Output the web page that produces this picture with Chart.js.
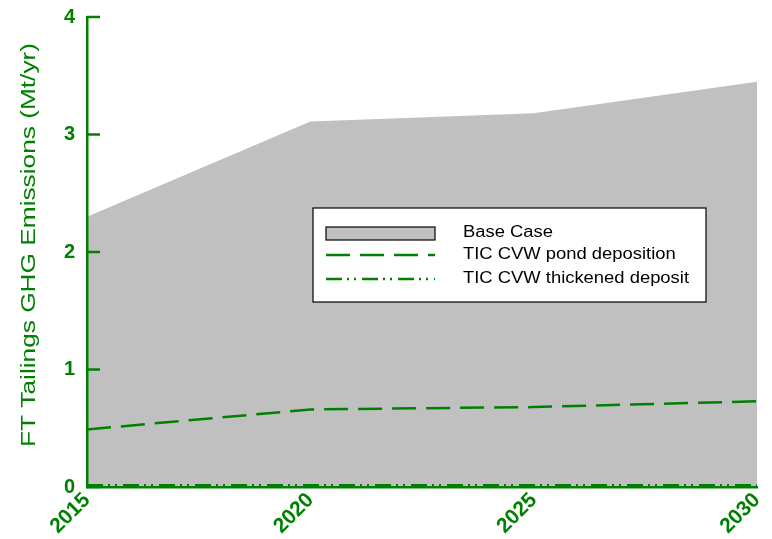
<!DOCTYPE html>
<html>
<head>
<meta charset="utf-8">
<script src="https://cdn.jsdelivr.net/npm/chart.js@4/dist/chart.umd.min.js"></script>
<style>
  html, body { margin: 0; padding: 0; background: #ffffff; }
  #wrap { width: 772px; height: 539px; position: relative; }
</style>
</head>
<body>
<div id="wrap"><canvas id="c" width="772" height="539"></canvas></div>
<script>
// Years on the horizontal axis
const years = [2015, 2020, 2025, 2030];
const yTicks = [0, 1, 2, 3, 4];

// Fine tailings GHG emissions, Mt/yr
const baseCase = [2.30, 3.11, 3.18, 3.45];
const pondDeposition = [0.49, 0.66, 0.68, 0.73];
const thickenedDeposit = [0.015, 0.015, 0.015, 0.015];

const seriesNames = ['Base Case', 'TIC CVW pond deposition', 'TIC CVW thickened deposit'];
const yTitle = 'FT Tailings GHG Emissions (Mt/yr)';

const GREEN = '#008000';
const GREY = '#c0c0c0';
const FONT = 'Arial, "Liberation Sans", sans-serif';

const pts = (vals) => years.map((x, i) => ({ x, y: vals[i] }));

const pondDash = [24, 10];
const thickDash = [16, 5, 2, 5, 2, 6];

// inward tick marks on the value axis
const inwardTicks = {
  id: 'inwardTicks',
  afterDraw(chart) {
    const ctx = chart.ctx;
    const y = chart.scales.y;
    const left = chart.chartArea.left;
    ctx.save();
    ctx.strokeStyle = GREEN;
    ctx.lineWidth = 2.5;
    yTicks.forEach(v => {
      const py = y.getPixelForValue(v);
      ctx.beginPath();
      ctx.moveTo(left, py);
      ctx.lineTo(left + 13, py);
      ctx.stroke();
    });
    ctx.restore();
  }
};

// wide-set vertical axis title
const axisTitle = {
  id: 'axisTitle',
  afterDraw(chart) {
    const ctx = chart.ctx;
    const a = chart.chartArea;
    ctx.save();
    ctx.translate(35, (a.top + a.bottom) / 2 - 7);
    ctx.rotate(-Math.PI / 2);
    ctx.scale(1.25, 1);
    ctx.font = '21px ' + FONT;
    ctx.fillStyle = GREEN;
    ctx.textAlign = 'center';
    ctx.textBaseline = 'alphabetic';
    ctx.fillText(yTitle, 0, 0);
    ctx.restore();
  }
};

// boxed legend inside the plot
const boxLegend = {
  id: 'boxLegend',
  afterDraw(chart) {
    const ctx = chart.ctx;
    const a = chart.chartArea;
    const bx = a.left + 226, by = a.top + 191, bw = 393, bh = 94;
    ctx.save();
    ctx.fillStyle = '#ffffff';
    ctx.fillRect(bx, by, bw, bh);
    ctx.strokeStyle = '#000000';
    ctx.lineWidth = 1.2;
    ctx.strokeRect(bx, by, bw, bh);

    const sx = bx + 13, sw = 109, tx = bx + 150;
    const rows = [by + 25, by + 47, by + 71];
    ctx.fillStyle = '#000000';
    ctx.textBaseline = 'middle';
    seriesNames.forEach((n, i) => {
      ctx.save();
      ctx.translate(tx, rows[i]);
      ctx.scale(1.15, 1);
      ctx.font = '16px ' + FONT;
      ctx.fillText(n, 0, 0);
      ctx.restore();
    });

    // Base Case swatch
    ctx.fillStyle = GREY;
    ctx.fillRect(sx, rows[0] - 6, sw, 13);
    ctx.strokeStyle = '#000000';
    ctx.lineWidth = 1.2;
    ctx.strokeRect(sx, rows[0] - 6, sw, 13);

    ctx.strokeStyle = GREEN;
    ctx.lineWidth = 2.5;
    ctx.setLineDash(pondDash);
    ctx.beginPath();
    ctx.moveTo(sx, rows[1]); ctx.lineTo(sx + sw, rows[1]);
    ctx.stroke();

    ctx.setLineDash(thickDash);
    ctx.beginPath();
    ctx.moveTo(sx, rows[2]); ctx.lineTo(sx + sw, rows[2]);
    ctx.stroke();
    ctx.restore();
  }
};

new Chart(document.getElementById('c'), {
  type: 'line',
  data: {
    datasets: [
      {
        label: seriesNames[0],
        data: pts(baseCase),
        fill: 'origin',
        backgroundColor: GREY,
        borderWidth: 0,
        borderColor: 'rgba(0,0,0,0)',
        pointRadius: 0,
        tension: 0,
        order: 3
      },
      {
        label: seriesNames[1],
        data: pts(pondDeposition),
        fill: false,
        borderColor: GREEN,
        borderWidth: 2.5,
        borderDash: pondDash,
        pointRadius: 0,
        tension: 0,
        order: 1
      },
      {
        label: seriesNames[2],
        data: pts(thickenedDeposit),
        fill: false,
        borderColor: GREEN,
        borderWidth: 2.5,
        borderDash: thickDash,
        pointRadius: 0,
        tension: 0,
        order: 0
      }
    ]
  },
  options: {
    responsive: false,
    animation: false,
    devicePixelRatio: 1,
    layout: { padding: { top: 17, right: 15, left: 0, bottom: 0 } },
    plugins: { legend: { display: false }, tooltip: { enabled: false } },
    scales: {
      x: {
        type: 'linear',
        min: years[0],
        max: years[years.length - 1],
        afterBuildTicks: (s) => { s.ticks = years.map(v => ({ value: v })); },
        afterFit: (s) => { s.height = 52; s.paddingLeft = 0; s.paddingRight = 0; },
        grid: { display: false, drawTicks: false },
        border: { display: true, color: GREEN, width: 2.5, z: 1 },
        ticks: {
          color: GREEN,
          font: { family: FONT, size: 21, weight: 'bold' },
          maxRotation: 45,
          minRotation: 45,
          padding: 1,
          z: 1,
          callback: (v) => String(v)
        }
      },
      y: {
        min: 0,
        max: 4,
        afterBuildTicks: (s) => { s.ticks = yTicks.map(v => ({ value: v })); },
        afterFit: (s) => { s.width = 87; s.paddingTop = 0; s.paddingBottom = 0; },
        grid: { display: false, drawTicks: false },
        border: { display: true, color: GREEN, width: 2.5, z: 1 },
        ticks: {
          color: GREEN,
          font: { family: FONT, size: 20, weight: 'bold' },
          padding: 12,
          z: 1
        }
      }
    }
  },
  plugins: [inwardTicks, axisTitle, boxLegend]
});
</script>
</body>
</html>
